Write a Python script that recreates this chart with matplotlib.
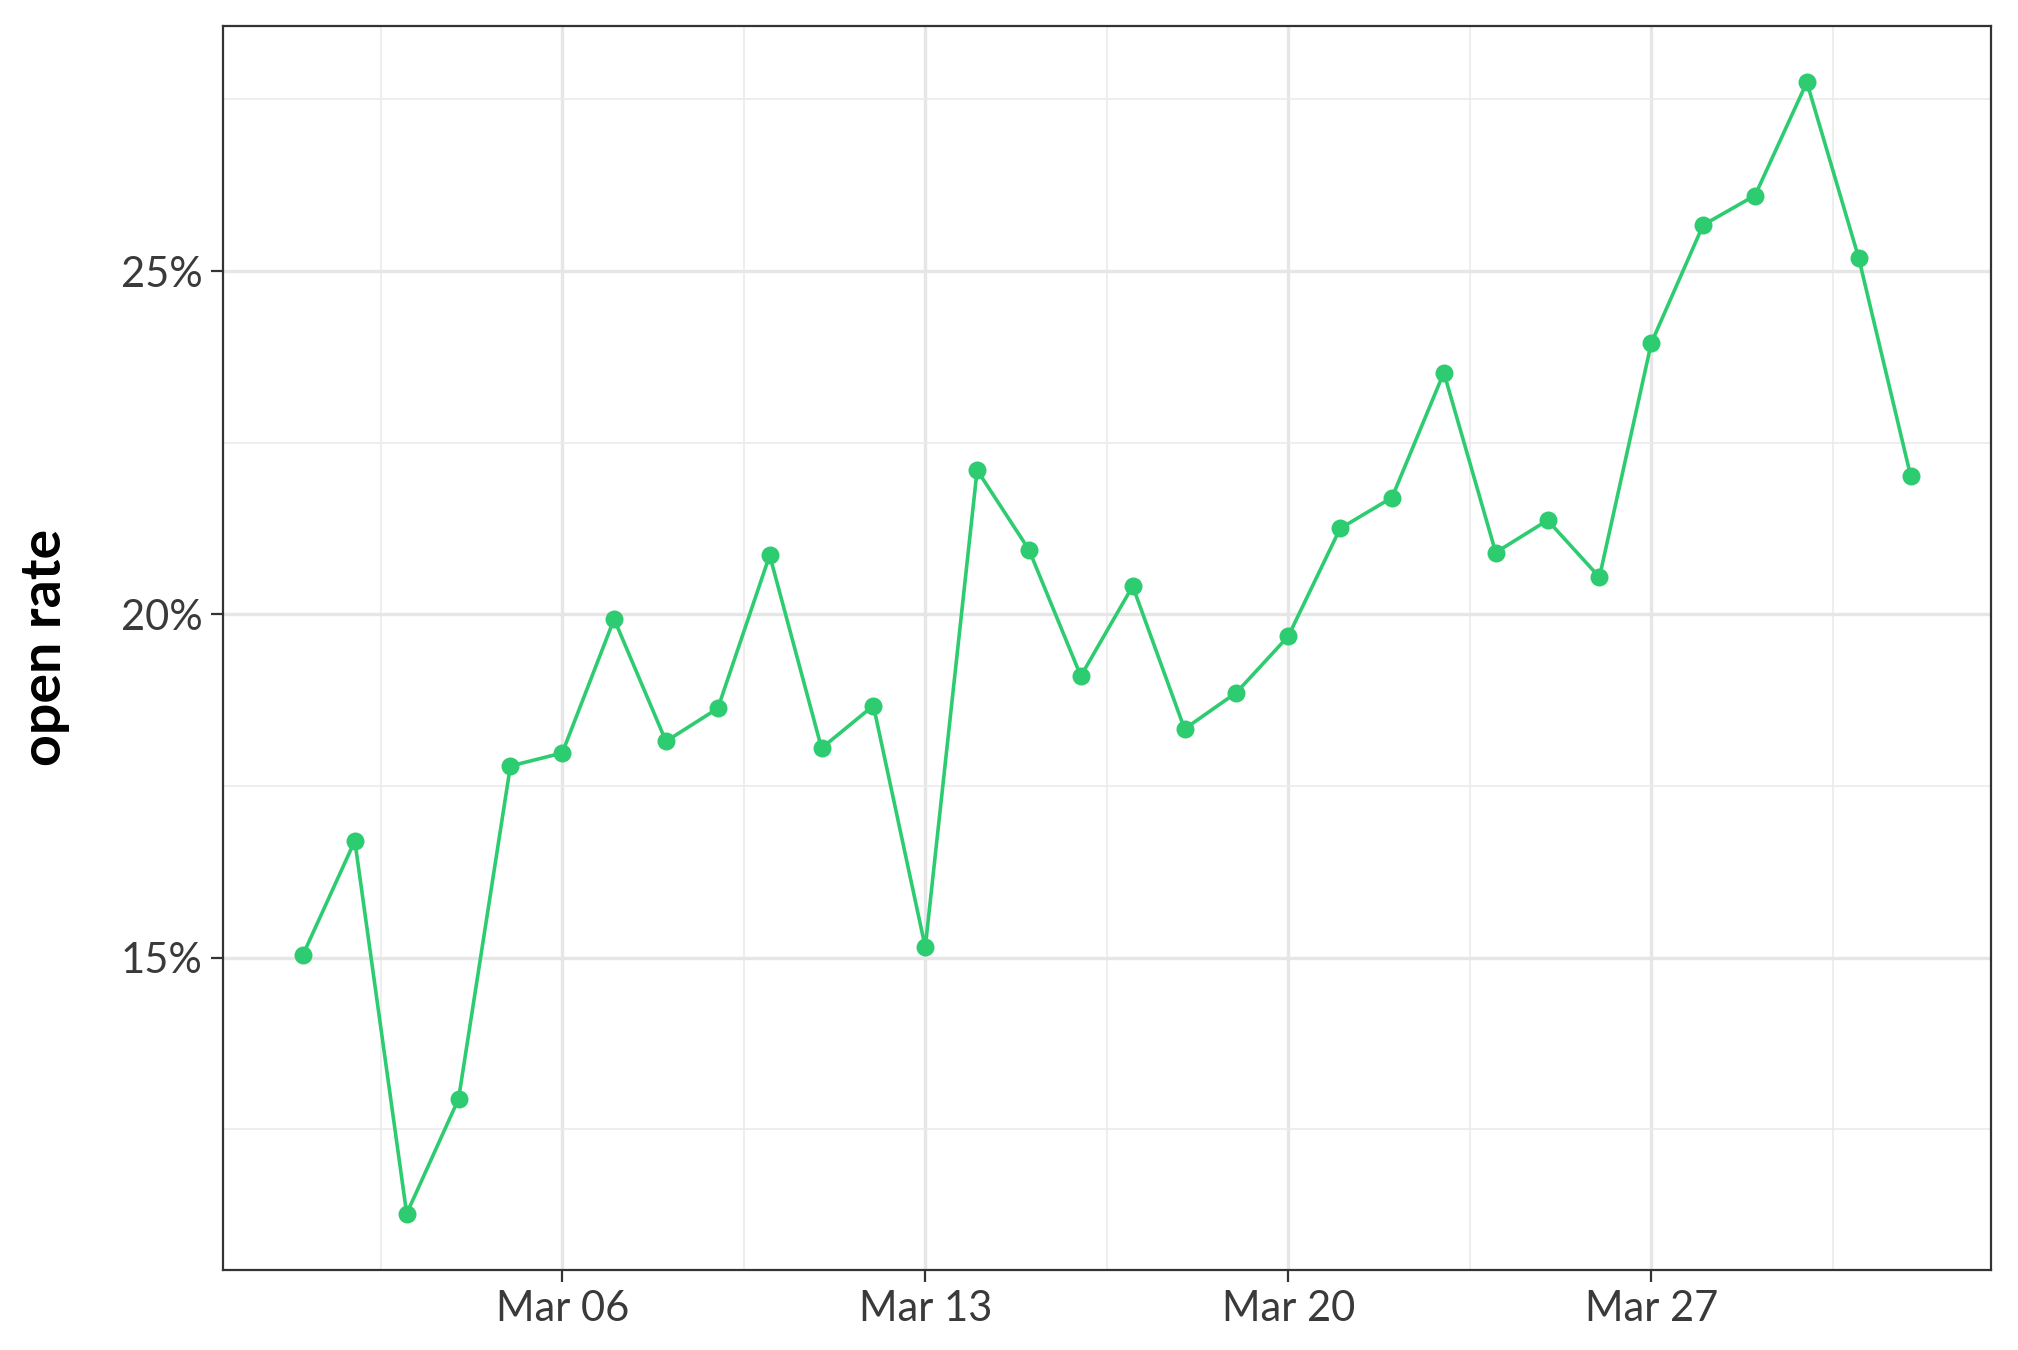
import matplotlib
matplotlib.use("Agg")
import matplotlib.pyplot as plt
import matplotlib.dates as mdates
import matplotlib.ticker as mticker
import numpy as np
import pandas as pd

# open rate per day, Mar 01 - Apr 01
dates = pd.date_range("2023-03-01", "2023-04-01", freq="D")
open_rate = [
    15.04, 16.70, 11.27, 12.94, 17.79, 17.98, 19.93, 18.15, 18.63, 20.86,
    18.05, 18.67, 15.15, 22.10, 20.94, 19.10, 20.41, 18.33, 18.86, 19.68,
    21.25, 21.70, 23.52, 20.90, 21.37, 20.54, 23.95, 25.67, 26.10, 27.75,
    25.19, 22.02,
]
y_ticks = [15, 20, 25]
x_ticks = pd.to_datetime(["2023-03-06", "2023-03-13", "2023-03-20", "2023-03-27"])

plt.rcParams["font.family"] = ["Lato", "DejaVu Sans"]

fig = plt.figure(figsize=(10.09, 6.75), dpi=200)
ax = fig.add_axes([0.1103, 0.0591, 0.8763, 0.9219])

ax.plot(dates, open_rate, color="#2ecc71", linewidth=1.3, zorder=3)
ax.scatter(dates, open_rate, color="#2ecc71", s=42, zorder=4, linewidths=0)

# ggplot-ish 5% expansion
xnum = mdates.date2num(dates)
xpad = (xnum[-1] - xnum[0]) * 0.05
ax.set_xlim(xnum[0] - xpad, xnum[-1] + xpad)
ypad = (max(open_rate) - min(open_rate)) * 0.05
ax.set_ylim(min(open_rate) - ypad, max(open_rate) + ypad)

ax.set_xticks(mdates.date2num(x_ticks))
ax.xaxis.set_major_formatter(mdates.DateFormatter("%b %d"))
minor_x = mdates.date2num(x_ticks) - 3.5
minor_x = np.append(minor_x, mdates.date2num(x_ticks[-1]) + 3.5)
ax.set_xticks(minor_x, minor=True)

ax.set_yticks(y_ticks)
ax.yaxis.set_major_formatter(mticker.FuncFormatter(lambda v, p: f"{v:.0f}%"))
ax.set_yticks([12.5, 17.5, 22.5, 27.5], minor=True)

ax.grid(which="major", color="#e6e6e6", linewidth=1.2, zorder=0)
ax.grid(which="minor", color="#ebebeb", linewidth=0.6, zorder=0)
ax.set_axisbelow(True)

ax.tick_params(which="major", length=4.3, width=0.8, color="#333333",
               labelsize=15, labelcolor="#3a3a3a", pad=3)
ax.tick_params(which="minor", length=0)
for s in ax.spines.values():
    s.set_color("#333333")
    s.set_linewidth(0.8)

ax.set_ylabel("open rate", fontsize=20, fontweight="bold", labelpad=18)

fig.savefig("out.png", dpi=200, facecolor="white")
